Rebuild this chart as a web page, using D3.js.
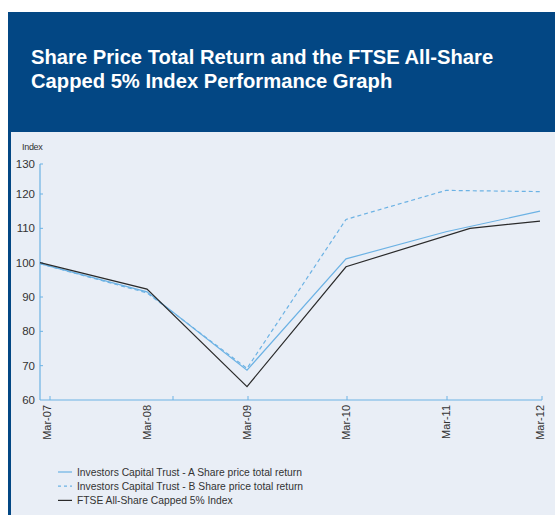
<!DOCTYPE html>
<html>
<head>
<meta charset="utf-8">
<script src="https://cdn.jsdelivr.net/npm/d3@7"></script>
<style>
  body { margin: 0; background: #fff; }
  svg { display: block; font-family: "Liberation Sans", Arial, sans-serif; }
</style>
</head>
<body>
<svg class="chart" width="555" height="515"></svg>
<script>
// ---- data (x in years after Mar-07) ----
var xLabels   = ["Mar-07", "Mar-08", "Mar-09", "Mar-10", "Mar-11", "Mar-12"];
var labelPos  = [0.07, 1.07, 2.07, 3.06, 4.06, 5.0];
var tickPos   = [0.1, 1.33, 2.08, 3.07, 4.07, 5.02];
var yTicks    = [60, 70, 80, 90, 100, 110, 120, 130];

var periodsA  = [0, 1.07, 2.07, 3.06, 4.06, 5.0];
var trustA    = [99.7, 91.5, 68.7, 101.1, 109.0, 115.0];
var trustB    = [99.7, 91.2, 69.2, 112.6, 121.2, 120.8];
var periodsF  = [0, 1.07, 2.07, 3.06, 4.3, 5.0];
var ftse      = [100, 92.3, 63.9, 98.8, 110.0, 112.1];

var seriesNames = [
  "Investors Capital Trust - A Share price total return",
  "Investors Capital Trust - B Share price total return",
  "FTSE All-Share Capped 5% Index"
];

var svg = d3.select("svg.chart");
var lightBlue = "#6cb2e4", dark = "#2a2a2a";

// background blocks
svg.append("rect").attr("x", 8).attr("y", 12).attr("width", 547).attr("height", 503)
  .attr("fill", "#034784");
svg.append("rect").attr("x", 11).attr("y", 132).attr("width", 544).attr("height", 383)
  .attr("fill", "#e9eef6");

// title
var title = svg.append("text").attr("x", 31).attr("y", 64)
  .attr("fill", "#fff").attr("font-size", 20.2).attr("font-weight", "bold");
title.append("tspan").attr("x", 31).attr("y", 64).text("Share Price Total Return and the FTSE All-Share");
title.append("tspan").attr("x", 31).attr("y", 88).text("Capped 5% Index Performance Graph");

// scales
var x = d3.scaleLinear().domain([0, 5]).range([40, 540]);
var y = d3.scaleLinear().domain([60, 120, 130]).range([400, 194, 164]);

var g = svg.append("g");

// axes
g.append("line").attr("x1", 40).attr("x2", 40).attr("y1", y(130)).attr("y2", y(60))
  .attr("stroke", lightBlue).attr("stroke-width", 1.2);
g.append("line").attr("x1", 40).attr("x2", x(5.02)).attr("y1", y(60)).attr("y2", y(60))
  .attr("stroke", lightBlue).attr("stroke-width", 1.2);

g.selectAll(".ytick").data(yTicks.slice(1)).enter().append("line")
  .attr("x1", 40).attr("x2", 43)
  .attr("y1", function(d) { return y(d); }).attr("y2", function(d) { return y(d); })
  .attr("stroke", lightBlue);
g.selectAll(".ylab").data(yTicks).enter().append("text")
  .attr("x", 35).attr("y", function(d) { return y(d); }).attr("dy", "0.35em")
  .attr("text-anchor", "end").attr("font-size", 11.5).attr("fill", "#333")
  .text(function(d) { return d; });

g.selectAll(".xtick").data(tickPos).enter().append("line")
  .attr("x1", function(d) { return x(d); }).attr("x2", function(d) { return x(d); })
  .attr("y1", 396).attr("y2", 400)
  .attr("stroke", lightBlue);
g.selectAll(".xlab").data(xLabels).enter().append("text")
  .attr("transform", function(d, i) { return "translate(" + (x(labelPos[i]) + 4) + ",405) rotate(-90)"; })
  .attr("text-anchor", "end").attr("font-size", 11).attr("fill", "#333")
  .text(function(d) { return d; });

svg.append("text").attr("x", 22).attr("y", 150).attr("font-size", 9).attr("fill", "#333")
  .attr("letter-spacing", -0.3).text("Index");

// lines
var line = d3.line()
  .x(function(d) { return x(d[0]); })
  .y(function(d) { return y(d[1]); });

g.append("path").datum(d3.zip(periodsA, trustB)).attr("d", line)
  .attr("fill", "none").attr("stroke", lightBlue).attr("stroke-width", 1.2)
  .attr("stroke-dasharray", "4,3");
g.append("path").datum(d3.zip(periodsA, trustA)).attr("d", line)
  .attr("fill", "none").attr("stroke", lightBlue).attr("stroke-width", 1.2);
g.append("path").datum(d3.zip(periodsF, ftse)).attr("d", line)
  .attr("fill", "none").attr("stroke", dark).attr("stroke-width", 1.2);

// legend
var legend = svg.append("g").attr("transform", "translate(58,472)");
var styles = [
  {stroke: lightBlue, dash: null},
  {stroke: lightBlue, dash: "3,3"},
  {stroke: dark, dash: null}
];
seriesNames.forEach(function(name, i) {
  var row = legend.append("g").attr("transform", "translate(0," + (i * 14.2) + ")");
  row.append("line").attr("x1", 0).attr("x2", 14).attr("y1", 0).attr("y2", 0)
    .attr("stroke", styles[i].stroke).attr("stroke-width", 1.2)
    .attr("stroke-dasharray", styles[i].dash);
  row.append("text").attr("x", 19).attr("y", 0).attr("dy", "0.35em")
    .attr("font-size", 10.3).attr("fill", "#333").text(name);
});
</script>
</body>
</html>
